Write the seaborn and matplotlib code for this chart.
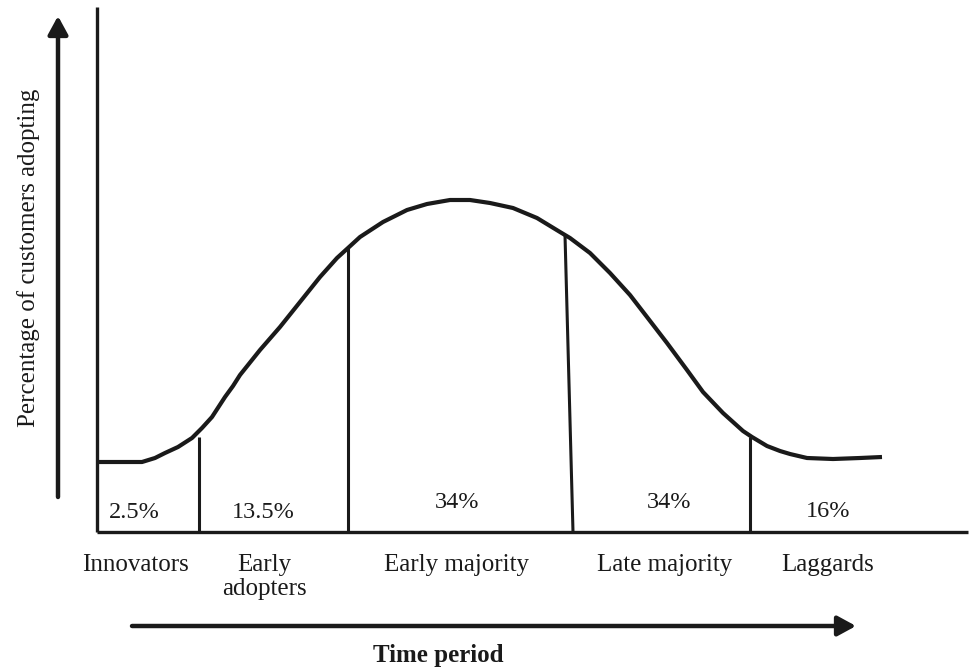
"""Technology adoption life-cycle diagram (Rogers curve) redrawn with seaborn."""

import matplotlib

matplotlib.use("Agg")
import matplotlib.pyplot as plt
import seaborn as sns

# Diagram coordinates in pixel units (y grows downward).
CURVE_X = [97, 142, 155, 165, 178, 192, 202, 212, 225, 233, 240, 260, 280, 300, 320,
           337, 348, 360, 383, 407, 427, 450, 470, 490, 513, 537, 560, 570, 590,
           610, 630, 647, 667, 687, 703, 723, 743, 752, 767, 780, 790, 807, 833,
           860, 882]
CURVE_Y = [462, 462, 458, 453, 447, 438, 428, 417, 397, 386, 375, 350, 327, 302, 277,
           258, 248, 237, 222, 210, 204, 200, 200, 203, 208, 218, 232, 238, 253,
           273, 295, 317, 343, 370, 392, 413, 431, 437, 446, 451, 454, 458, 459,
           458, 457]

# segment boundaries: (x at curve, y at curve, x at baseline)
DIVIDER_TOP_X = [199, 348, 565, 750]
DIVIDER_TOP_Y = [437, 248, 235, 437]
DIVIDER_BOTTOM_X = [199, 348, 573, 750]
BASELINE_Y = 532

SHARES = ["2.5%", "13.5%", "34%", "34%", "16%"]
SHARE_X = [134, 263, 457, 669, 828]
SHARE_Y = [518, 518, 508, 508, 517]

GROUPS = ["Innovators", "Early\nadopters", "Early majority", "Late majority", "Laggards"]
GROUP_X = [135, 264, 457, 665, 828]
GROUP_Y = 571
LINE_STEP = 24

INK = "#1a1a1a"
FONT = ["Liberation Serif", "DejaVu Serif"]


def main() -> None:
    sns.set_theme(style="white")
    plt.rcParams["font.family"] = FONT
    plt.rcParams["text.color"] = INK

    fig = plt.figure(figsize=(9.7, 6.7), dpi=100)
    ax = fig.add_axes([0, 0, 1, 1])
    ax.set_xlim(0, 970)
    ax.set_ylim(670, 0)
    ax.axis("off")

    # frame: vertical axis and baseline
    ax.plot([97, 97], [7, BASELINE_Y], color=INK, lw=2.4, solid_capstyle="butt")
    ax.plot([97, 968], [BASELINE_Y, BASELINE_Y], color=INK, lw=2.4, solid_capstyle="butt")

    # adoption curve
    sns.lineplot(x=CURVE_X, y=CURVE_Y, sort=False, estimator=None, color=INK,
                 lw=3.0, solid_joinstyle="round", solid_capstyle="butt", ax=ax)

    # category dividers
    for xt, yt, xb in zip(DIVIDER_TOP_X, DIVIDER_TOP_Y, DIVIDER_BOTTOM_X):
        ax.plot([xt, xb], [yt, BASELINE_Y], color=INK, lw=2.2, solid_capstyle="butt")

    for label, x, y in zip(SHARES, SHARE_X, SHARE_Y):
        ax.text(x, y, label, ha="center", va="baseline", fontsize=17.5)

    for label, x in zip(GROUPS, GROUP_X):
        lines = label.split("\n")
        for i, part in enumerate(lines):
            ax.text(x, GROUP_Y + i * LINE_STEP, part, ha="center", va="baseline",
                    fontsize=18)

    arrow = dict(arrowstyle="-|>,head_length=1.1,head_width=0.6", color=INK,
                 lw=3.2, shrinkA=0, shrinkB=0, mutation_scale=10)
    # vertical arrow (percentage)
    ax.annotate("", xy=(58, 16), xytext=(58, 497), arrowprops=arrow)
    ax.text(29, 258, "Percentage of customers adopting", rotation=90,
            ha="center", va="center", fontsize=18)

    # horizontal arrow (time)
    ax.annotate("", xy=(856, 626), xytext=(132, 626), arrowprops=arrow)
    ax.text(438, 662, "Time period", ha="center", va="baseline", fontsize=18,
            fontweight="bold")

    fig.savefig("out.png", dpi=100, facecolor="white")
    plt.close(fig)


if __name__ == "__main__":
    main()
